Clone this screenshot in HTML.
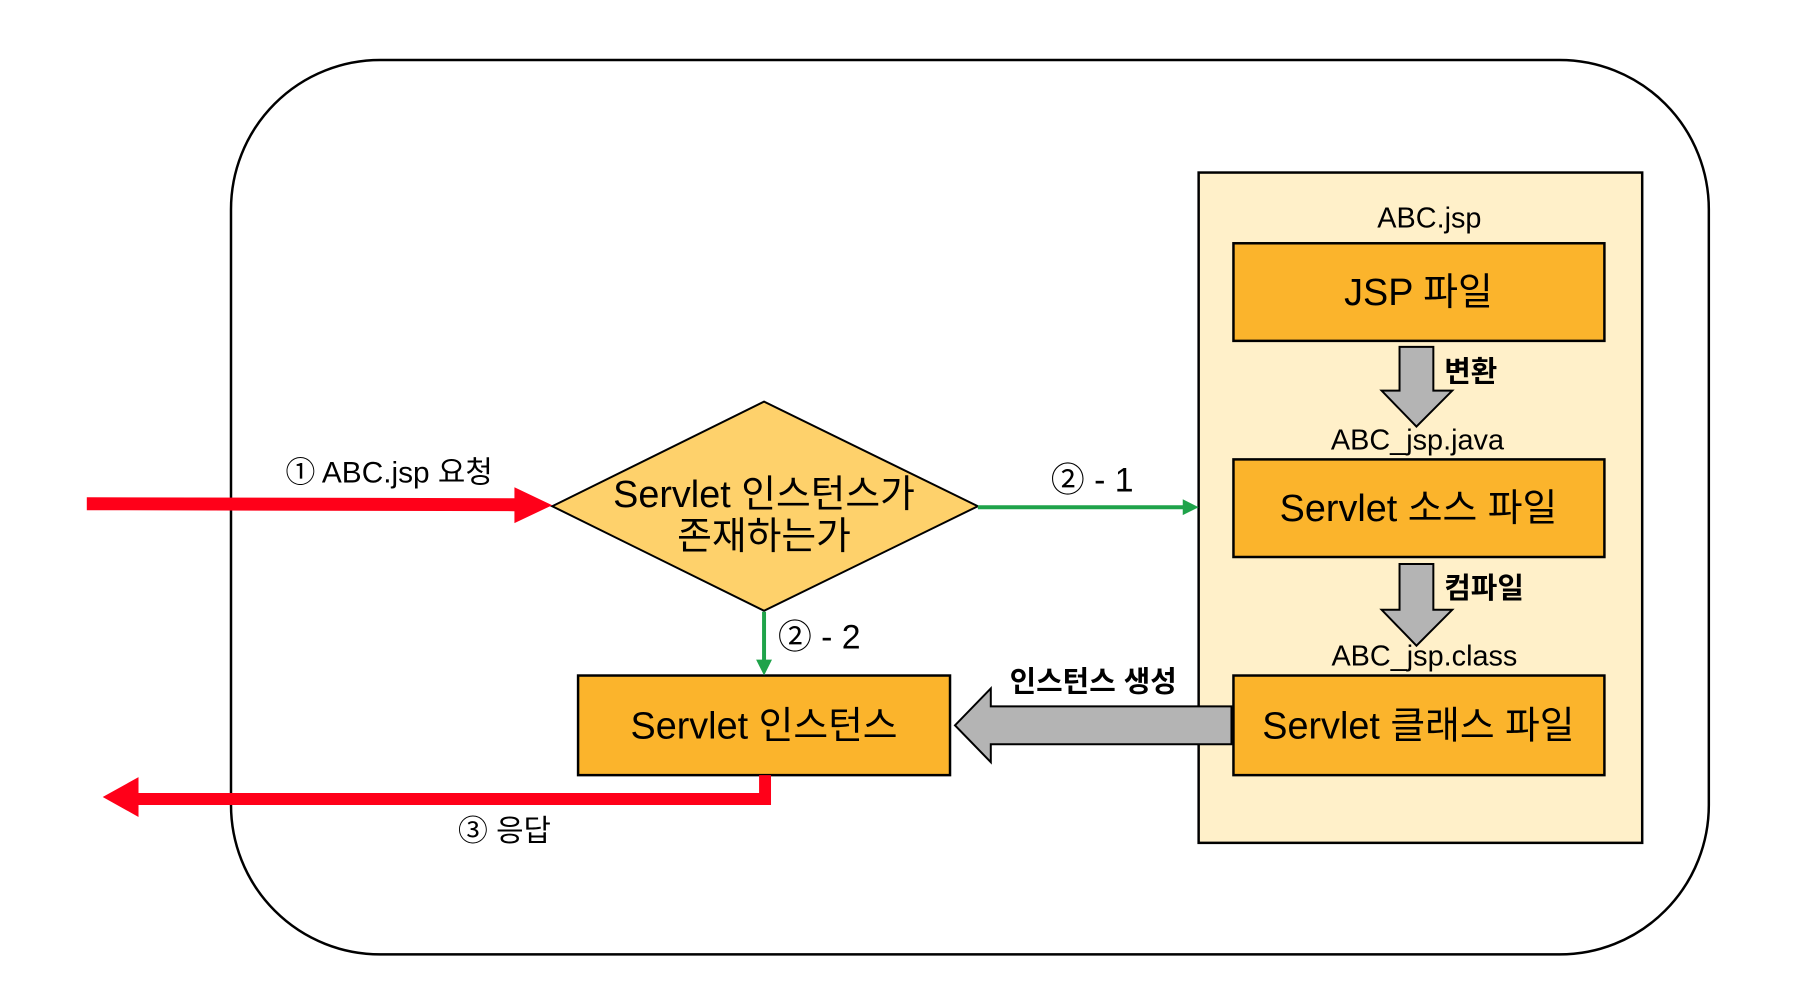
<!DOCTYPE html>
<html><head><meta charset="utf-8"><style>
html,body{margin:0;padding:0;background:#fff;}
svg{display:block;}
text{font-family:"Liberation Sans","Noto Sans CJK KR",sans-serif;fill:#000;}
</style></head><body>
<svg width="1800" height="1004" viewBox="0 0 1800 1004" xmlns="http://www.w3.org/2000/svg">
<g transform="translate(1.27,0.24) scale(0.9945,0.996)">
<rect x="231" y="60" width="1486" height="898" rx="150" ry="150" fill="#fff" stroke="#000" stroke-width="2.5"/>
<rect x="1204" y="173" width="446" height="673" fill="#FFF0C9" stroke="#000" stroke-width="2.5"/>
<rect x="1239" y="244" width="373" height="98" fill="#FBB42C" stroke="#000" stroke-width="2.5"/>
<rect x="1239" y="461" width="373" height="98" fill="#FBB42C" stroke="#000" stroke-width="2.5"/>
<rect x="1239" y="678" width="373" height="100" fill="#FBB42C" stroke="#000" stroke-width="2.5"/>
<rect x="580" y="678" width="374" height="100" fill="#FBB42C" stroke="#000" stroke-width="2.5"/>
<polygon points="554,508 767,403 982,508 767,613" fill="#FED16B" stroke="#000" stroke-width="2"/>
<polygon points="1406,348 1440,348 1440,392 1459,392 1423,428 1388,392 1406,392" fill="#B4B4B4" stroke="#000" stroke-width="2"/>
<polygon points="1406,566 1440,566 1440,612 1459,612 1423,648 1388,612 1406,612" fill="#B4B4B4" stroke="#000" stroke-width="2"/>
<polygon points="1237,709 995,709 995,691 959,728 995,765 995,747 1237,747" fill="#B4B4B4" stroke="#000" stroke-width="2"/>
<line x1="982" y1="509" x2="1190" y2="509" stroke="#1FA34A" stroke-width="4"/>
<polygon points="1188,501 1204,509 1188,517" fill="#1FA34A"/>
<line x1="767" y1="614" x2="767" y2="664" stroke="#1FA34A" stroke-width="4"/>
<polygon points="759,662 767,678 775,662" fill="#1FA34A"/>
<polygon points="86,499 516,500 516,489 554,507 516,525 516,513 86,512" fill="#FF0019"/>
<polygon points="762,778 774,778 774,808 138,808 138,820 102,800 138,780 138,796 762,796" fill="#FF0019"/>
<text x="1436" y="228" font-size="29" text-anchor="middle">ABC.jsp</text>
<text x="1425" y="306" font-size="38" text-anchor="middle">JSP 파일</text>
<text x="1451" y="383" font-size="29" font-weight="bold">변환</text>
<text x="1424" y="451" font-size="29" text-anchor="middle">ABC_jsp.java</text>
<text x="1425" y="523" font-size="38" text-anchor="middle">Servlet 소스 파일</text>
<text x="1451" y="600" font-size="29" font-weight="bold">컴파일</text>
<text x="1431" y="668" font-size="29" text-anchor="middle">ABC_jsp.class</text>
<text x="1425" y="741" font-size="38" text-anchor="middle">Servlet 클래스 파일</text>
<text x="767" y="741" font-size="38" text-anchor="middle">Servlet 인스턴스</text>
<text x="1098" y="694" font-size="29" font-weight="bold" text-anchor="middle">인스턴스 생성</text>
<text x="767" y="509" font-size="38" text-anchor="middle">Servlet 인스턴스가</text>
<text x="767" y="551" font-size="38" text-anchor="middle">존재하는가</text>
<text x="1097" y="493" font-size="34" text-anchor="middle">② - 1</text>
<text x="781" y="651" font-size="34">② - 2</text>
<text x="390" y="484" font-size="30" text-anchor="middle">① ABC.jsp 요청</text>
<text x="506" y="844" font-size="30" text-anchor="middle">③ 응답</text>
</g>
</svg>
</body></html>
